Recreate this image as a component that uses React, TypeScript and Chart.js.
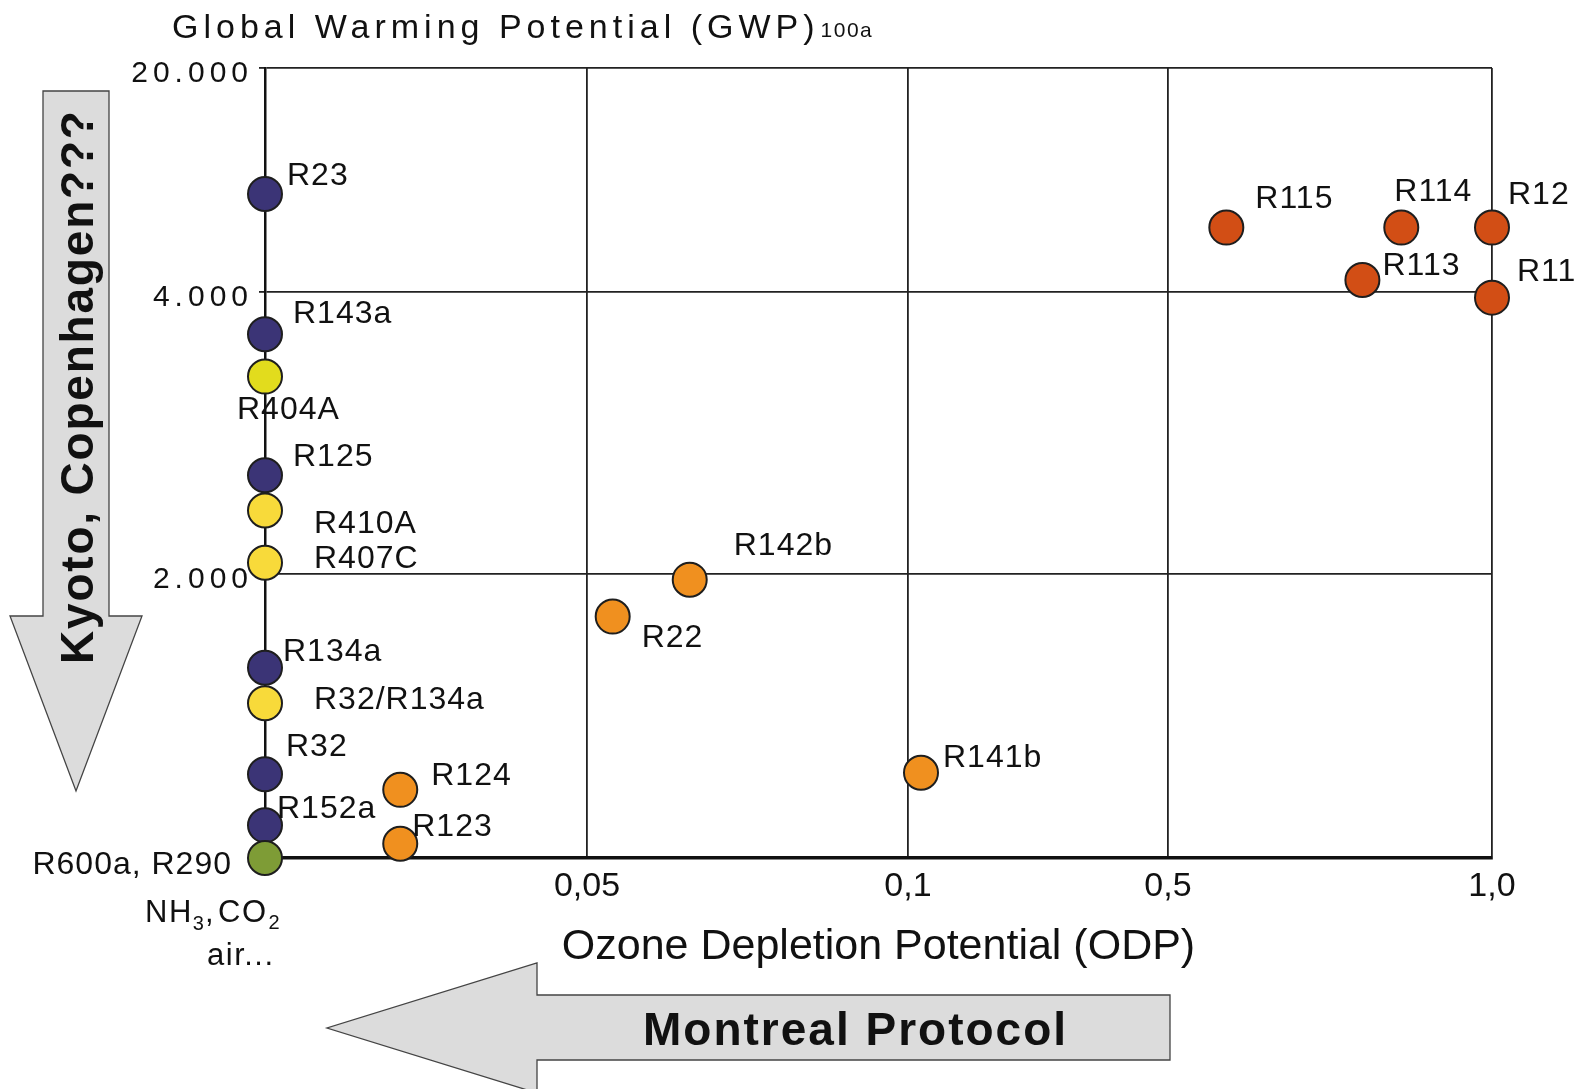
import { useEffect, useRef } from 'react';
import { Chart, registerables } from 'chart.js';

Chart.register(...registerables);

const FONT = '"Liberation Sans", Arial, Helvetica, sans-serif';

// ---- data ----
const REFRIGERANTS = [
  'R23', 'R143a', 'R404A', 'R125', 'R410A', 'R407C', 'R134a', 'R32/R134a', 'R32', 'R152a', 'R600a, R290',
  'R124', 'R123', 'R22', 'R142b', 'R141b',
  'R115', 'R114', 'R12', 'R113', 'R11',
];
const ODP = [
  0, 0, 0, 0, 0, 0, 0, 0, 0, 0, 0,
  0.021, 0.021, 0.054, 0.066, 0.12,
  0.59, 0.86, 1.0, 0.8, 1.0,
];
const GWP = [
  11000, 3700, 3400, 2700, 2450, 2080, 1340, 1090, 590, 230, 0,
  480, 100, 1700, 1960, 600,
  8600, 8600, 8600, 4860, 3960,
];
const GROUP = [
  'HFC', 'HFC', 'blend', 'HFC', 'blend', 'blend', 'HFC', 'blend', 'HFC', 'HFC', 'natural',
  'HCFC', 'HCFC', 'HCFC', 'HCFC', 'HCFC',
  'CFC', 'CFC', 'CFC', 'CFC', 'CFC',
];

const ODP_TICKS = [0, 0.05, 0.1, 0.5, 1.0];
const ODP_TICK_LABELS = ['', '0,05', '0,1', '0,5', '1,0'];
const GWP_TICKS = [0, 2000, 4000, 20000];
const GWP_TICK_LABELS = ['', '2.000', '4.000', '20.000'];

// ---- layout / style (broken axes: axis-unit length of each segment) ----
const ODP_AXIS_STOPS = [0, 322, 643, 903, 1227];
const GWP_AXIS_STOPS = [0, 284, 566, 790];

const GROUP_ORDER = ['natural', 'blend', 'HFC', 'HCFC', 'CFC'];
const GROUP_COLORS: Record<string, string> = {
  HFC: '#3b3476',
  blend: '#f8da3a',
  natural: '#7e9c36',
  HCFC: '#f0901f',
  CFC: '#d24e15',
};
const COLOR_OVERRIDE: Record<string, string> = { R404A: '#e2dc1d' };

// label offsets from the point centre: [dx, dy, align]
const LABEL_OFFSETS: [number, number, CanvasTextAlign][] = [
  [22, -18, 'left'], [28, -20, 'left'], [-28, 34, 'left'], [28, -18, 'left'], [49, 14, 'left'],
  [49, -4, 'left'], [18, -16, 'left'], [49, -3, 'left'], [21, -27, 'left'], [12, -16, 'left'],
  [-33, 7, 'right'],
  [31, -14, 'left'], [12, -17, 'left'], [29, 22, 'left'], [44, -34, 'left'], [22, -15, 'left'],
  [29, -28, 'left'], [-7, -35, 'left'], [16, -32, 'left'], [20, -14, 'left'], [25, -25, 'left'],
];

function warp(v: number, breaks: number[], stops: number[]) {
  for (let i = 0; i < breaks.length - 1; i++) {
    if (v <= breaks[i + 1] || i === breaks.length - 2) {
      return stops[i] + ((v - breaks[i]) / (breaks[i + 1] - breaks[i])) * (stops[i + 1] - stops[i]);
    }
  }
  return stops[0];
}

function drawText(
  ctx: CanvasRenderingContext2D, s: string, x: number, y: number, font: string,
  ls = '0px', align: CanvasTextAlign = 'left', baseline: CanvasTextBaseline = 'alphabetic'
) {
  ctx.save();
  ctx.font = font;
  (ctx as any).letterSpacing = ls;
  ctx.textAlign = align;
  ctx.textBaseline = baseline;
  ctx.fillStyle = '#111';
  ctx.fillText(s, x, y);
  const w = ctx.measureText(s).width;
  ctx.restore();
  return w;
}

function arrow(ctx: CanvasRenderingContext2D, pts: number[][]) {
  ctx.save();
  ctx.beginPath();
  pts.forEach(([x, y], i) => (i ? ctx.lineTo(x, y) : ctx.moveTo(x, y)));
  ctx.closePath();
  ctx.fillStyle = '#dcdcdc';
  ctx.fill();
  ctx.strokeStyle = '#444';
  ctx.lineWidth = 1.3;
  ctx.stroke();
  ctx.restore();
}

const decor = {
  id: 'decor',
  beforeDraw(chart: any) {
    const ys = chart.scales.y;
    if (ys && !ys.__ls) {
      const orig = ys.drawLabels;
      ys.drawLabels = function (area: any) {
        const c = this.ctx;
        const prev = c.letterSpacing;
        c.letterSpacing = '5px';
        orig.call(this, area);
        c.letterSpacing = prev;
      };
      ys.__ls = true;
    }
    const ctx = chart.ctx;
    ctx.save();
    ctx.fillStyle = '#ffffff';
    ctx.fillRect(0, 0, chart.width, chart.height);
    ctx.restore();
  },
  afterDatasetsDraw(chart: any) {
    const ctx = chart.ctx;
    ctx.save();
    ctx.font = `32px ${FONT}`;
    ctx.letterSpacing = '1px';
    ctx.fillStyle = '#111';
    ctx.textBaseline = 'middle';
    chart.data.datasets.forEach((ds: any, di: number) => {
      const meta = chart.getDatasetMeta(di);
      meta.data.forEach((el: any, j: number) => {
        const idx = ds.data[j].i;
        const [dx, dy, align] = LABEL_OFFSETS[idx];
        ctx.textAlign = align;
        ctx.fillText(REFRIGERANTS[idx], el.x + dx, el.y + dy);
      });
    });
    ctx.restore();
  },
  afterDraw(chart: any) {
    const ctx = chart.ctx as CanvasRenderingContext2D;
    // title
    const tw = drawText(ctx, 'Global Warming Potential (GWP)', 172, 38, `34px ${FONT}`, '5px');
    drawText(ctx, '100a', 172 + tw + 1, 37, `21px ${FONT}`, '1.5px');

    // Kyoto arrow
    arrow(ctx, [[43, 91], [109, 91], [109, 616], [142, 616], [76, 791], [10, 616], [43, 616]]);
    ctx.save();
    ctx.translate(93, 664);
    ctx.rotate(-Math.PI / 2);
    drawText(ctx, 'Kyoto, Copenhagen???', 0, 0, `bold 46px ${FONT}`, '1.8px');
    ctx.restore();

    // Montreal arrow
    arrow(ctx, [[1170, 995], [1170, 1060], [537, 1060], [537, 1093], [327, 1028], [537, 963], [537, 995]]);
    drawText(ctx, 'Montreal Protocol', 643, 1045, `bold 46px ${FONT}`, '2px');

    // natural refrigerants annotation
    const f = `31px ${FONT}`;
    const fs = `20px ${FONT}`;
    let x = 145;
    x += drawText(ctx, 'NH', x, 922, f, '1.5px');
    x += drawText(ctx, '3', x, 930, fs, '1px');
    x += drawText(ctx, ',', x, 922, f, '1.5px');
    x += drawText(ctx, 'CO', x + 3, 922, f, '1.5px') + 3;
    drawText(ctx, '2', x + 1, 929, fs, '1px');
    drawText(ctx, 'air...', 207, 965, f, '1.5px');
  },
};

function buildDatasets() {
  return GROUP_ORDER.map((g) => {
    const idxs = REFRIGERANTS.map((_, i) => i).filter((i) => GROUP[i] === g);
    return {
      label: g,
      data: idxs.map((i) => ({
        x: warp(ODP[i], ODP_TICKS, ODP_AXIS_STOPS),
        y: warp(GWP[i], GWP_TICKS, GWP_AXIS_STOPS),
        i,
      })),
      clip: false,
      pointRadius: 17,
      pointHoverRadius: 17,
      pointBorderWidth: 2,
      pointBorderColor: '#1e1e1e',
      pointBackgroundColor: idxs.map((i) => COLOR_OVERRIDE[REFRIGERANTS[i]] || GROUP_COLORS[g]),
      showLine: false,
    };
  });
}

export default function App() {
  const ref = useRef<HTMLCanvasElement | null>(null);

  useEffect(() => {
    document.body.style.margin = '0';
    const chart = new Chart(ref.current as HTMLCanvasElement, {
      type: 'scatter',
      data: { datasets: buildDatasets() as any },
      options: {
        animation: false,
        responsive: false,
        events: [],
        layout: { padding: { left: 0, right: 94, top: 68, bottom: 0 } },
        plugins: { legend: { display: false }, tooltip: { enabled: false } },
        scales: {
          x: {
            type: 'linear',
            position: 'bottom',
            min: ODP_AXIS_STOPS[0],
            max: ODP_AXIS_STOPS[ODP_AXIS_STOPS.length - 1],
            afterFit: (s: any) => { s.height = 231; },
            afterBuildTicks: (s: any) => { s.ticks = ODP_AXIS_STOPS.map((v) => ({ value: v })); },
            ticks: {
              autoSkip: false,
              maxRotation: 0,
              padding: 8,
              color: '#111',
              font: { family: FONT, size: 34 },
              callback: (_v: any, i: number) => ODP_TICK_LABELS[i],
            },
            grid: { color: '#222', lineWidth: 1.8, drawTicks: false },
            border: { color: '#111', width: 3.5 },
            title: {
              display: true,
              text: 'Ozone Depletion Potential (ODP)',
              color: '#111',
              font: { family: FONT, size: 43 },
              padding: { top: 0, bottom: 116 },
            },
          },
          y: {
            type: 'linear',
            position: 'left',
            min: GWP_AXIS_STOPS[0],
            max: GWP_AXIS_STOPS[GWP_AXIS_STOPS.length - 1],
            afterFit: (s: any) => { s.width = 265; },
            afterBuildTicks: (s: any) => { s.ticks = GWP_AXIS_STOPS.map((v) => ({ value: v })); },
            ticks: {
              autoSkip: false,
              padding: 6,
              labelOffset: 6,
              color: '#111',
              font: { family: FONT, size: 30 },
              callback: (_v: any, i: number) => GWP_TICK_LABELS[i],
            },
            grid: { color: '#222', lineWidth: 1.8, drawTicks: true, tickLength: 6 },
            border: { color: '#111', width: 2.5 },
          },
        },
      },
      plugins: [decor],
    });
    return () => chart.destroy();
  }, []);

  return (
    <div style={{ width: 1586, height: 1089, position: 'relative', background: '#fff' }}>
      <canvas ref={ref} width={1586} height={1089} style={{ display: 'block', width: 1586, height: 1089 }} />
    </div>
  );
}
